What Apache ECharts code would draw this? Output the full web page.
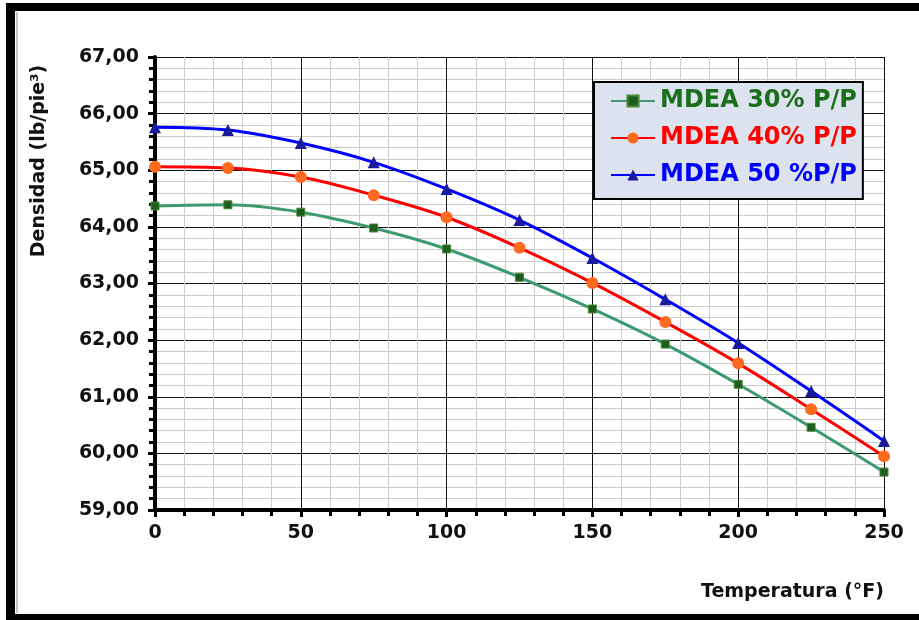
<!DOCTYPE html>
<html>
<head>
<meta charset="utf-8">
<script src="https://cdn.jsdelivr.net/npm/echarts@6/dist/echarts.min.js"></script>
<style>
html,body{margin:0;padding:0;background:#fff;}
#main{width:919px;height:620px;}
</style>
</head>
<body>
<div id="main"></div>
<script>
const temperatures = [0, 25, 50, 75, 100, 125, 150, 175, 200, 225, 250];
const mdea30 = [64.37, 64.39, 64.26, 63.98, 63.61, 63.11, 62.55, 61.93, 61.22, 60.46, 59.67];
const mdea40 = [65.06, 65.04, 64.88, 64.56, 64.17, 63.63, 63.01, 62.32, 61.59, 60.78, 59.95];
const mdea50 = [65.76, 65.71, 65.48, 65.14, 64.67, 64.12, 63.45, 62.72, 61.95, 61.10, 60.22];
const seriesNames = ['MDEA 30% P/P', 'MDEA 40% P/P', 'MDEA 50 %P/P'];
const xTitle = 'Temperatura (°F)';
const yTitle = 'Densidad (lb/pie³)';

const FONT = '"DejaVu Sans", sans-serif';
const chart = echarts.init(document.getElementById('main'), null, {renderer: 'canvas'});
const pairs = arr => temperatures.map((t, i) => [t, arr[i]]);

const option = {
  backgroundColor: '#ffffff',
  animation: false,
  grid: {left: 155, right: 35, top: 57, bottom: 110, containLabel: false},
  xAxis: {
    type: 'value', min: 0, max: 250, interval: 50,
    axisLine: {show: true, onZero: false, lineStyle: {color: '#000', width: 4}},
    axisTick: {show: true, inside: false, length: 7, lineStyle: {color: '#000', width: 3}},
    minorTick: {show: true, splitNumber: 5, length: 6, lineStyle: {color: '#000', width: 3}},
    axisLabel: {color: '#111', fontFamily: FONT, fontWeight: 'bold', fontSize: 19, margin: 14},
    splitLine: {show: true, lineStyle: {color: '#111', width: 1}},
    minorSplitLine: {show: true, lineStyle: {color: '#cccccc', width: 1}}
  },
  yAxis: {
    type: 'value', min: 59, max: 67, interval: 1,
    axisLine: {show: true, onZero: false, lineStyle: {color: '#000', width: 4}},
    axisTick: {show: true, inside: false, length: 7, lineStyle: {color: '#000', width: 3}},
    minorTick: {show: true, splitNumber: 5, length: 6, lineStyle: {color: '#000', width: 3}},
    axisLabel: {color: '#111', fontFamily: FONT, fontWeight: 'bold', fontSize: 19, margin: 16,
      formatter: v => v.toFixed(2).replace('.', ',')},
    splitLine: {show: true, lineStyle: {color: '#111', width: 1}},
    minorSplitLine: {show: true, lineStyle: {color: '#cccccc', width: 1}}
  },
  legend: {
    orient: 'vertical', left: 594, top: 82, width: 268,
    backgroundColor: '#dde3ee', borderColor: '#000', borderWidth: 2,
    padding: [7, 6, 12, 16], itemGap: 13, itemWidth: 44, itemHeight: 14,
    textStyle: {fontFamily: FONT, fontWeight: 'bold', fontSize: 24},
    data: [
      {name: seriesNames[0], textStyle: {color: '#1b6e1b'}},
      {name: seriesNames[1], textStyle: {color: '#ff0000'}},
      {name: seriesNames[2], textStyle: {color: '#0000ff'}}
    ]
  },
  series: [
    {name: seriesNames[0], type: 'line', smooth: 0.35, data: pairs(mdea30),
     lineStyle: {color: '#3b9a6f', width: 3}, symbol: 'rect', symbolSize: 8,
     itemStyle: {color: '#1e5c1e', borderColor: '#4a8a3a', borderWidth: 1}, z: 3},
    {name: seriesNames[1], type: 'line', smooth: 0.35, data: pairs(mdea40),
     lineStyle: {color: '#ff0000', width: 3}, symbol: 'circle', symbolSize: 12,
     itemStyle: {color: '#ff6a1e'}, z: 4},
    {name: seriesNames[2], type: 'line', smooth: 0.35, data: pairs(mdea50),
     lineStyle: {color: '#0000ff', width: 3}, symbol: 'triangle', symbolSize: 12,
     itemStyle: {color: '#1a1a9c'}, z: 5}
  ],
  graphic: [
    {type: 'rect', shape: {x: 6, y: 3, width: 913, height: 8}, style: {fill: '#000'}, silent: true},
    {type: 'rect', shape: {x: 6, y: 3, width: 9, height: 617}, style: {fill: '#000'}, silent: true},
    {type: 'rect', shape: {x: 6, y: 614, width: 913, height: 6}, style: {fill: '#000'}, silent: true},
    {type: 'line', shape: {x1: 17, y1: 12, x2: 17, y2: 613}, style: {stroke: '#888', lineWidth: 1}, silent: true},
    {type: 'text', x: 39, y: 161, rotation: Math.PI / 2,
     style: {text: yTitle, fill: '#111', font: 'bold 19px "DejaVu Sans", sans-serif',
             align: 'center', verticalAlign: 'middle'}},
    {type: 'text', x: 884, y: 592,
     style: {text: xTitle, fill: '#111', font: 'bold 19px "DejaVu Sans", sans-serif',
             align: 'right', verticalAlign: 'middle'}}
  ]
};
chart.setOption(option);
</script>
</body>
</html>
